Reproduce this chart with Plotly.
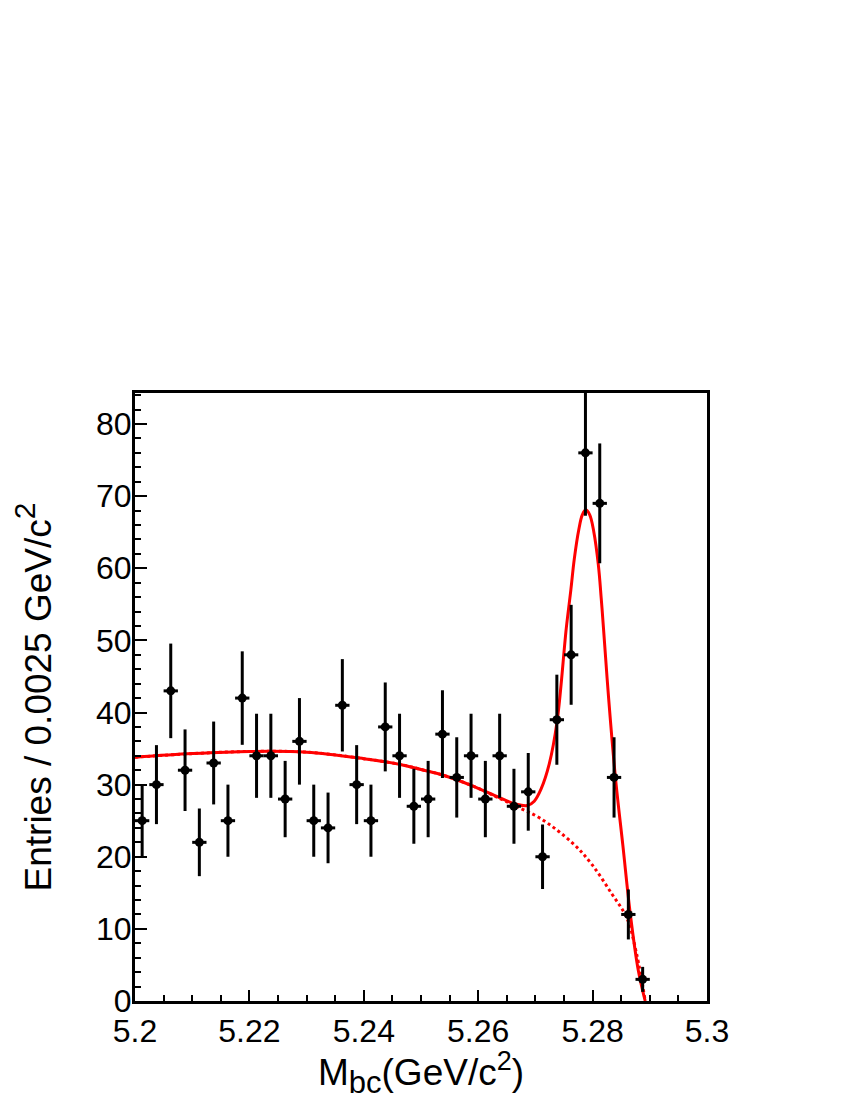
import numpy as np
import plotly.graph_objects as go

# binned M_bc data (bin width 0.0025)
mbc_centres = [5.20125, 5.20375, 5.20625, 5.20875, 5.21125, 5.21375, 5.21625, 5.21875,
               5.22125, 5.22375, 5.22625, 5.22875, 5.23125, 5.23375, 5.23625, 5.23875,
               5.24125, 5.24375, 5.24625, 5.24875, 5.25125, 5.25375, 5.25625, 5.25875,
               5.26125, 5.26375, 5.26625, 5.26875, 5.27125, 5.27375, 5.27625, 5.27875,
               5.28125, 5.28375, 5.28625, 5.28875]
entries = [25, 30, 43, 32, 22, 33, 25, 42, 34, 34, 28, 36, 25, 24, 41, 30, 25, 38,
           34, 27, 28, 37, 31, 34, 28, 34, 27, 29, 20, 39, 48, 76, 69, 31, 12, 3]
half_bin = 0.00125

# fit curves
total_x = [5.2000, 5.2100, 5.2200, 5.2300, 5.2400, 5.2464, 5.2500, 5.2539, 5.2591,
           5.2637, 5.2666, 5.2686, 5.2698, 5.2710, 5.2724, 5.2738, 5.2754, 5.2762,
           5.2768, 5.2776, 5.2782, 5.2788, 5.2795, 5.2802, 5.2810, 5.2815, 5.2819,
           5.2828, 5.2840, 5.2853, 5.2866, 5.2880, 5.2892]
total_y = [33.8, 34.3, 34.6, 34.5, 33.6, 32.8, 32.1, 31.3, 29.8,
           28.2, 27.3, 27.1, 27.7, 29.4, 32.8, 38.8, 51.7, 57.0,
           61.3, 65.4, 67.4, 68.1, 67.4, 65.1, 60.5, 55.9, 51.7,
           42.0, 30.9, 21.5, 12.0, 4.2, 0.0]
bkg_x = [5.2000, 5.2100, 5.2200, 5.2300, 5.2400, 5.2464, 5.2500, 5.2539, 5.2591,
         5.2637, 5.2666, 5.2707, 5.2765, 5.2799, 5.2834, 5.2860, 5.2877, 5.2892]
bkg_y = [33.8, 34.3, 34.6, 34.5, 33.6, 32.8, 32.1, 31.3, 29.8,
         28.1, 27.0, 25.4, 21.9, 18.9, 14.8, 11.5, 6.5, 0.0]

x_ticks = [5.2, 5.22, 5.24, 5.26, 5.28, 5.3]
x_ticktext = ["5.2", "5.22", "5.24", "5.26", "5.28", "5.3"]
y_ticks = [0, 10, 20, 30, 40, 50, 60, 70, 80]

errs = np.sqrt(np.array(entries, dtype=float))

fig = go.Figure()
fig.add_trace(go.Scatter(x=bkg_x, y=bkg_y, mode='lines', line_shape='spline',
                         line=dict(color='#ff0000', width=3, dash='dot')))
fig.add_trace(go.Scatter(x=total_x, y=total_y, mode='lines', line_shape='spline',
                         line=dict(color='#ff0000', width=3)))
fig.add_trace(go.Scatter(x=mbc_centres, y=entries, mode='markers',
                         marker=dict(color='black', size=9),
                         error_y=dict(type='data', array=errs, width=0, thickness=3, color='black'),
                         error_x=dict(type='constant', value=half_bin, width=0, thickness=3, color='black')))

font = "Liberation Sans, Arial, sans-serif"
# page body adds a small margin, so the figure is a bit smaller than the window
fig.update_layout(
    width=842, height=1092,
    margin=dict(l=127, r=143, t=385, b=99),
    plot_bgcolor='white', paper_bgcolor='white',
    showlegend=False,
    font=dict(family=font, color='black', size=31),
)
xtitle = ('M<sub><span style="font-size:31px">bc</span></sub>'
          '(GeV/c<sup><span style="font-size:27px">2</span></sup>)')
ytitle = 'Entries / 0.0025 GeV/c<sup><span style="font-size:30px">2</span></sup>'
fig.update_xaxes(range=[5.2, 5.3], tickvals=x_ticks, ticktext=x_ticktext,
                 automargin=False,
                 ticks='inside', ticklen=11, tickwidth=2, tickcolor='black',
                 minor=dict(dtick=0.005, ticks='inside', ticklen=6, tickwidth=2, tickcolor='black'),
                 showline=True, linewidth=3, linecolor='black', mirror=True,
                 showgrid=False, zeroline=False,
                 tickfont=dict(size=32),
                 title=dict(text=xtitle, font=dict(size=37), standoff=5))
fig.update_yaxes(range=[0, 84.3], tickvals=y_ticks,
                 automargin=False,
                 ticks='inside', ticklen=12, tickwidth=2, tickcolor='black',
                 minor=dict(dtick=2, ticks='inside', ticklen=6, tickwidth=2, tickcolor='black'),
                 showline=True, linewidth=3, linecolor='black', mirror=True,
                 showgrid=False, zeroline=False,
                 ticklabelstandoff=-6,
                 tickfont=dict(size=32),
                 title=dict(text=ytitle, font=dict(size=37), standoff=36))

fig.write_html("out.html")
